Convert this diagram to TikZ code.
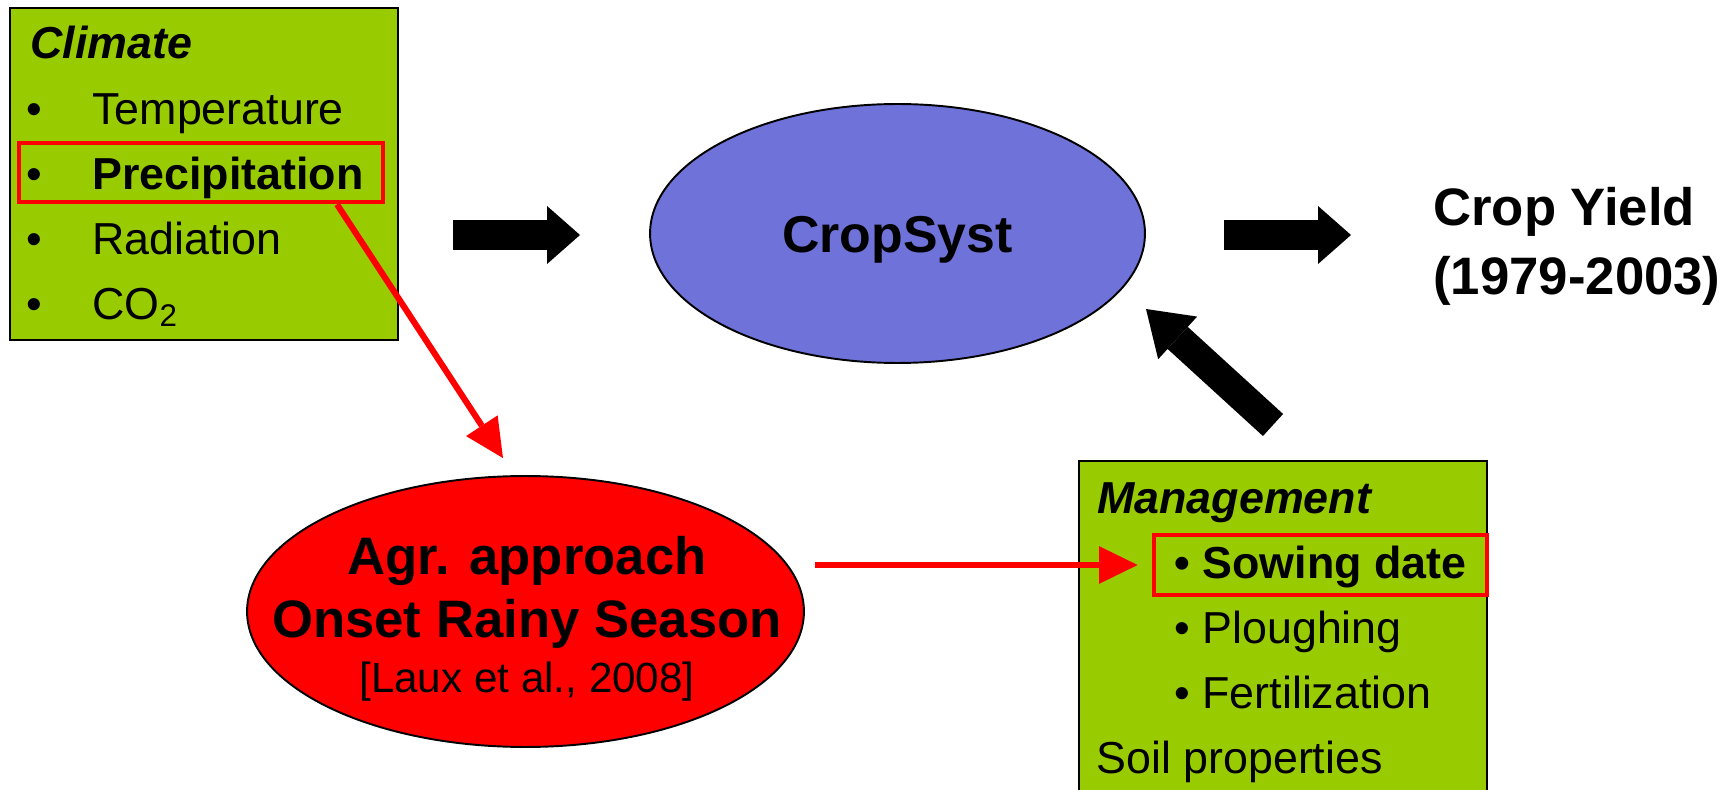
\documentclass[tikz,border=0pt]{standalone}
\usepackage{fontspec}
\setmainfont{Liberation Sans}
\usepackage{xcolor}
\usepackage{tikz}
\usetikzlibrary{positioning, arrows.meta, calc, shapes.geometric}

\definecolor{boxgreen}{RGB}{153,204,0}
\definecolor{cropblue}{RGB}{111,115,217}

\begin{document}
\begin{tikzpicture}[
    x=0.02cm, y=-0.02cm,
    greenbox/.style={rectangle, draw=black, line width=1.3pt, fill=boxgreen, inner sep=0pt, anchor=north west},
    redframe/.style={rectangle, draw=red, line width=2.7pt, inner sep=0pt},
    modelnode/.style={ellipse, draw=black, line width=1.1pt, inner sep=0pt},
    itemtext/.style={anchor=base west, inner sep=0pt, font=\fontsize{25.5}{30}\selectfont},
    bullettext/.style={anchor=base, inner sep=0pt, font=\fontsize{25.5}{30}\selectfont},
    headtext/.style={anchor=base west, inner sep=0pt, font=\fontsize{25.5}{30}\selectfont\bfseries\itshape},
    bigtext/.style={inner sep=0pt, font=\fontsize{30}{36}\selectfont\bfseries},
    blockarrow/.style={line width=17pt, -{Triangle[length=#1, width=32.9pt, line width=0pt]}},
    blockarrow/.default=18.7pt,
    redarrow/.style={draw=red, line width=3.5pt, -{Triangle[length=22pt, width=21.5pt, line width=0pt]}}
]
\useasboundingbox (0,0) rectangle (1734,790);
\clip (0,0) rectangle (1734,790);

% climate box
\node[greenbox, minimum width=7.76cm, minimum height=6.64cm](climate) at (9,7){};
\node[redframe, minimum width=7.28cm, minimum height=1.18cm](precbox) at (201,172.5){};
\node[headtext](climhead) at (30,59){Climate};
\node[bullettext](b1) at (34,125){•};
\node[bullettext](b2) at (34,190){•};
\node[bullettext](b3) at (34,255){•};
\node[bullettext](b4) at (34,320){•};
\node[itemtext](temp) at (92,125){Temperature};
\node[itemtext, font=\fontsize{25.5}{30}\selectfont\bfseries](prec) at (92,190){Precipitation};
\node[itemtext](rad) at (92,255){Radiation};
\node[itemtext](co2) at (92,320){CO\textsubscript{2}};

% model and output
\node[modelnode, fill=cropblue, minimum width=9.9cm, minimum height=5.18cm,
      text height=21.5pt, text depth=0pt, font=\fontsize{29.5}{36}\selectfont\bfseries](cropsyst) at (897.5,233.5){CropSyst};
\node[bigtext, anchor=base west](yield1) at (1433,226){Crop Yield};
\node[bigtext, anchor=base west](yield2) at (1433,295){(1979-2003)};

% onset of the rainy season
\node[modelnode, fill=red, minimum width=11.14cm, minimum height=5.42cm](agr) at (525.5,611.5){};
\node[bigtext, anchor=base](agr1) at (527,574){Agr. approach};
\node[bigtext, anchor=base](agr2) at (527,637){Onset Rainy Season};
\node[bigtext, anchor=base, font=\fontsize{24}{30}\selectfont](agr3) at (527,692){[Laux et al., 2008]};

% management box
\node[greenbox, minimum width=8.16cm, minimum height=6.8cm](manage) at (1078,460){};
\node[redframe, minimum width=6.66cm, minimum height=1.2cm](sowingbox) at (1320.5,565){};
\node[headtext](manhead) at (1097,513){Management};
\node[itemtext, font=\fontsize{25.5}{30}\selectfont\bfseries](sow) at (1174,578){• Sowing date};
\node[itemtext](plough) at (1174,643){• Ploughing};
\node[itemtext](fert) at (1174,708){• Fertilization};
\node[itemtext](soil) at (1096,773){Soil properties};

% block arrows
\coordinate (in1) at (453,235);
\coordinate (in2) at (580,235);
\coordinate (out1) at (1224,235);
\coordinate (out2) at (1351,235);
\coordinate (man1) at (1273,425);
\coordinate (man2) at (1146,309);
\draw[blockarrow](in1) -- (in2);
\draw[blockarrow](out1) -- (out2);
\draw[blockarrow=24.4pt](man1) -- (man2);

% red links
\coordinate (agrin) at ($(agr.north)+(-22.5,-17)$);
\draw[redarrow]($(precbox.south)+(136,0)$) -- (agrin);
\draw[redarrow]($(agr.east |- sowingbox.west)+(10,0)$) -- ($(sowingbox.west)+(-14,0)$);
\end{tikzpicture}
\end{document}
